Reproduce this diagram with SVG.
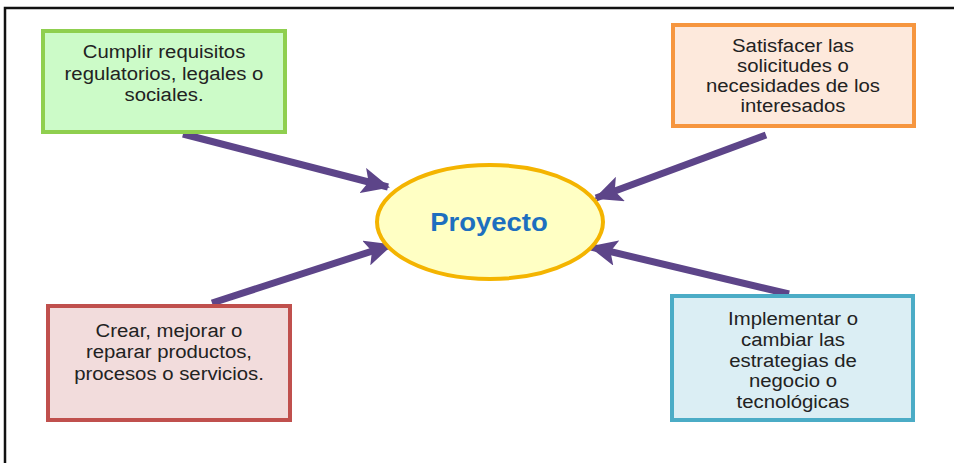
<svg xmlns="http://www.w3.org/2000/svg" width="954" height="463" viewBox="0 0 954 463">
<style>
.t{font-family:"Liberation Sans",Arial,sans-serif;font-size:18px;fill:#222;text-anchor:middle}
.box{stroke-width:4}
.c{stroke:#5d4589;stroke-width:7;fill:none;marker-end:url(#ah)}
</style>
<defs>
<marker id="ah" markerUnits="userSpaceOnUse" markerWidth="28" markerHeight="26" viewBox="0 0 28 26" refX="26" refY="13" orient="auto">
<path d="M0,0 L28,13 L0,26 L6,13 Z" fill="#5d4589"/>
</marker>
</defs>
<rect width="954" height="463" fill="#fff"/>
<path d="M5,463 L5,8 L954,8" fill="none" stroke="#111" stroke-width="2.5"/>
<g id="connectors">
<line class="c" x1="183" y1="134" x2="388" y2="187"/>
<line class="c" x1="766" y1="135" x2="596" y2="198"/>
<line class="c" x1="212" y1="303" x2="391" y2="245"/>
<line class="c" x1="789" y1="294" x2="591" y2="247"/>
</g>
<g id="proyecto">
<ellipse cx="490" cy="222" rx="113" ry="57" fill="#ffffc4" stroke="#f4b400" stroke-width="4"/>
<g transform="translate(489,0) scale(1.1,1)">
<text x="0" y="231" style="font-family:'Liberation Sans',Arial,sans-serif;font-size:25px;font-weight:bold;fill:#1d6fbf;text-anchor:middle">Proyecto</text>
</g>
</g>
<g id="cumplir">
<rect class="box" x="43" y="31" width="242" height="101" fill="#ccfbc8" stroke="#8fcf4f"/>
<g transform="translate(164,0) scale(1.13,1)">
<text class="t" x="0" y="58">Cumplir requisitos</text>
<text class="t" x="0" y="80">regulatorios, legales o</text>
<text class="t" x="0" y="101">sociales.</text>
</g>
</g>
<g id="satisfacer">
<rect class="box" x="673" y="25" width="241" height="101" fill="#fde9dc" stroke="#f6963f"/>
<g transform="translate(793,0) scale(1.13,1)">
<text class="t" x="0" y="52">Satisfacer las</text>
<text class="t" x="0" y="72">solicitudes o</text>
<text class="t" x="0" y="92">necesidades de los</text>
<text class="t" x="0" y="112">interesados</text>
</g>
</g>
<g id="crear">
<rect class="box" x="48" y="306" width="242" height="114" fill="#f2dcdc" stroke="#c0504d"/>
<g transform="translate(169,0) scale(1.13,1)">
<text class="t" x="0" y="337">Crear, mejorar o</text>
<text class="t" x="0" y="358">reparar productos,</text>
<text class="t" x="0" y="380">procesos o servicios.</text>
</g>
</g>
<g id="implementar">
<rect class="box" x="672" y="296" width="241" height="124" fill="#dbeef4" stroke="#4bacc6"/>
<g transform="translate(793,0) scale(1.13,1)">
<text class="t" x="0" y="325">Implementar o</text>
<text class="t" x="0" y="346">cambiar las</text>
<text class="t" x="0" y="367">estrategias de</text>
<text class="t" x="0" y="387">negocio o</text>
<text class="t" x="0" y="408">tecnológicas</text>
</g>
</g>
</svg>
